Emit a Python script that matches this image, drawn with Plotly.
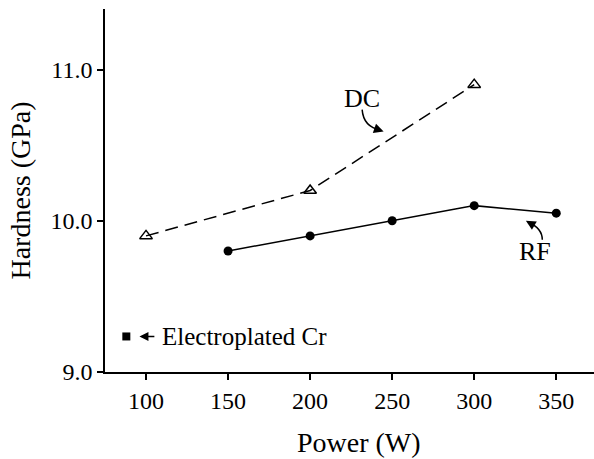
import plotly.graph_objects as go

dc_power = [100, 200, 300]
dc_hardness = [9.9, 10.2, 10.9]
rf_power = [150, 200, 250, 300, 350]
rf_hardness = [9.8, 9.9, 10.0, 10.1, 10.05]
cr_power = [88]
cr_hardness = [9.235]
x_ticks = [100, 150, 200, 250, 300, 350]
y_ticks = [9.0, 10.0, 11.0]
y_tick_labels = ["9.0", "10.0", "11.0"]

FONT = "Liberation Serif, Times New Roman, serif"

fig = go.Figure()
fig.add_trace(go.Scatter(
    x=dc_power, y=dc_hardness, mode="lines+markers",
    line=dict(color="black", width=1.5, dash="13px,7px"),
    marker=dict(symbol="triangle-up-open", size=11, color="black", line=dict(width=1.5)),
    showlegend=False))
fig.add_trace(go.Scatter(
    x=rf_power, y=rf_hardness, mode="lines+markers",
    line=dict(color="black", width=1.5),
    marker=dict(symbol="circle", size=9, color="black"),
    showlegend=False))
fig.add_trace(go.Scatter(
    x=cr_power, y=cr_hardness, mode="markers",
    marker=dict(symbol="square", size=8, color="black"),
    showlegend=False))

# curved arrows
fig.add_shape(type="path", path="M 231.7,10.735 Q 232.5,10.62 243.0,10.6",
              line=dict(color="black", width=1.5), xref="x", yref="y")
fig.add_annotation(x=244.8, y=10.59, ax=239.5, ay=10.61, xref="x", yref="y",
                   axref="x", ayref="y", text="", showarrow=True,
                   arrowhead=2, arrowsize=1.3, arrowwidth=1.5, arrowcolor="black")
fig.add_shape(type="path", path="M 341.5,9.874 Q 341.5,9.95 333.0,9.99",
              line=dict(color="black", width=1.5), xref="x", yref="y")
fig.add_annotation(x=331.5, y=10.0, ax=335.5, ay=9.975, xref="x", yref="y",
                   axref="x", ayref="y", text="", showarrow=True,
                   arrowhead=2, arrowsize=1.3, arrowwidth=1.5, arrowcolor="black")
# straight arrow to electroplated Cr
fig.add_annotation(x=96.0, y=9.235, ax=106.0, ay=9.235, xref="x", yref="y",
                   axref="x", ayref="y", text="", showarrow=True,
                   arrowhead=2, arrowsize=1.2, arrowwidth=1.5, arrowcolor="black")

fig.add_annotation(x=231.7, y=10.81, text="DC", showarrow=False,
                   font=dict(family=FONT, size=26, color="black"))
fig.add_annotation(x=337.2, y=9.795, text="RF", showarrow=False,
                   font=dict(family=FONT, size=26, color="black"))
fig.add_annotation(x=108.5, y=9.235, text="Electroplated Cr", showarrow=False,
                   xanchor="left", font=dict(family=FONT, size=25, color="black"))
# x-axis title, centred where the reference puts it
fig.add_annotation(x=0.52, y=-0.195, xref="paper", yref="paper", text="Power (W)",
                   showarrow=False, yanchor="middle",
                   font=dict(family=FONT, size=28, color="black"))

fig.update_layout(
    width=594, height=459,
    margin=dict(l=105, r=0, t=9, b=87),
    plot_bgcolor="white", paper_bgcolor="white",
    font=dict(family=FONT, color="black"),
)
fig.update_xaxes(
    range=[75, 373], tickvals=x_ticks, showgrid=False, zeroline=False,
    showline=True, linecolor="black", linewidth=1.5,
    ticks="outside", ticklen=6, tickwidth=1.5, tickcolor="black",
    tickfont=dict(family=FONT, size=24, color="black"),
)
fig.update_yaxes(
    range=[9.0, 11.4], tickvals=y_ticks, ticktext=y_tick_labels, showgrid=False, zeroline=False,
    showline=True, linecolor="black", linewidth=1.5,
    ticks="outside", ticklen=6, tickwidth=1.5, tickcolor="black",
    tickfont=dict(family=FONT, size=24, color="black"),
    title=dict(text="Hardness (GPa)", font=dict(family=FONT, size=28, color="black"), standoff=12),
)

fig.write_html("out.html")
